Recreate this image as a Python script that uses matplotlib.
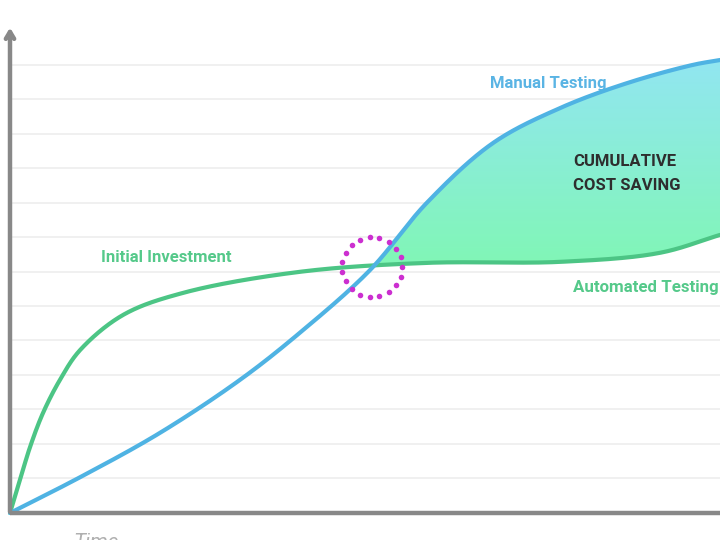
import numpy as np
import matplotlib
matplotlib.use("Agg")
import matplotlib.pyplot as plt
from matplotlib.patches import Polygon
from matplotlib.colors import LinearSegmentedColormap

plt.rcParams['font.family'] = ['Roboto', 'DejaVu Sans']

# values (time 0..100, cost in grid units)
manual_x = [0, 9.9, 21.1, 32.4, 40.8, 50.7, 58.7, 68.0, 77.5, 86.9, 96.2, 100]
manual_y = [0, 1.04, 2.32, 3.86, 5.22, 7.04, 8.99, 10.72, 11.74, 12.46, 12.99, 13.13]

auto_x = [0, 1.41, 2.82, 4.65, 7.04, 9.86, 15.92, 24.37, 40.8, 58.7, 77.5, 91.5, 100]
auto_y = [0, 0.96, 1.91, 2.90, 3.86, 4.72, 5.74, 6.38, 6.99, 7.25, 7.28, 7.54, 8.06]

grid_levels = list(range(1, 14))
blue = '#4fb3e3'
green = '#4cc585'

# pixel scale of one unit, used so the smoothing works in screen space
SX, SY = 7.1, 34.5


def smooth(x, y, n=60):
    # centripetal catmull-rom, only to draw a smooth line through the read points
    p = np.column_stack([np.asarray(x) * SX, np.asarray(y) * SY])
    p = np.vstack([2 * p[0] - p[1], p, 2 * p[-1] - p[-2]])
    out = []
    for i in range(1, len(p) - 2):
        p0, p1, p2, p3 = p[i - 1], p[i], p[i + 1], p[i + 2]
        t0 = 0.0
        t1 = t0 + np.linalg.norm(p1 - p0) ** 0.5
        t2 = t1 + np.linalg.norm(p2 - p1) ** 0.5
        t3 = t2 + np.linalg.norm(p3 - p2) ** 0.5
        t = np.linspace(t1, t2, n)[:, None]
        a1 = (t1 - t) / (t1 - t0) * p0 + (t - t0) / (t1 - t0) * p1
        a2 = (t2 - t) / (t2 - t1) * p1 + (t - t1) / (t2 - t1) * p2
        a3 = (t3 - t) / (t3 - t2) * p2 + (t - t2) / (t3 - t2) * p3
        b1 = (t2 - t) / (t2 - t0) * a1 + (t - t0) / (t2 - t0) * a2
        b2 = (t3 - t) / (t3 - t1) * a2 + (t - t1) / (t3 - t1) * a3
        c = (t2 - t) / (t2 - t1) * b1 + (t - t1) / (t2 - t1) * b2
        out.append(c if i == 1 else c[1:])
    c = np.vstack(out)
    return c[:, 0] / SX, c[:, 1] / SY


mx, my = smooth(manual_x, manual_y)
axx, ayy = smooth(auto_x, auto_y)

fig = plt.figure(figsize=(7.2, 5.4), dpi=100)
ax = fig.add_axes([0, 0, 1, 1])
ax.axis('off')

for g in grid_levels:
    ax.axhline(g, xmin=0.014, color='#eeeeee', lw=1.2, zorder=0)

# gradient fill for the saving area (after the break-even point)
xs = np.linspace(50, 100, 400)
top = np.interp(xs, mx, my)
bot = np.interp(xs, axx, ayy)
keep = top >= bot
xs, top, bot = xs[keep], top[keep], bot[keep]
verts = np.vstack([np.column_stack([xs, top]), np.column_stack([xs[::-1], bot[::-1]])])
clip = Polygon(verts, closed=True, fc='none', ec='none', transform=ax.transData)
ax.add_patch(clip)
grad = np.linspace(0, 1, 256).reshape(-1, 1)
cmap = LinearSegmentedColormap.from_list('g', ['#80f7b4', '#92e6f2'])
im = ax.imshow(grad, cmap=cmap, aspect='auto', origin='lower',
               extent=[45, 100, 7.0, 13.2], zorder=1)
im.set_clip_path(clip)

ax.plot(axx, ayy, color=green, lw=3, zorder=3, solid_capstyle='round')
ax.plot(mx, my, color=blue, lw=3, zorder=4, solid_capstyle='round')

# axes
ax.plot([0, 101], [0, 0], color='#888888', lw=3.2, zorder=5, solid_capstyle='butt')
ax.annotate('', xy=(0, 14.15), xytext=(0, -0.05),
            arrowprops=dict(arrowstyle='->,head_length=0.5,head_width=0.3',
                            color='#888888', lw=3.2), zorder=5)

# dotted break-even circle
ang = np.linspace(0, 2 * np.pi, 20)[:-1]
ax.scatter(51.0 + 4.23 * np.cos(ang), 7.13 + 0.87 * np.sin(ang), s=16,
           color='#cc2fd0', lw=0, zorder=6)

ax.text(67.6, 12.45, 'Manual Testing', color='#5ab4e4', fontsize=12, fontweight='bold',
        ha='left', va='center')
ax.text(12.8, 7.42, 'Initial Investment', color='#55c98a', fontsize=12, fontweight='bold',
        ha='left', va='center')
ax.text(79.3, 6.53, 'Automated Testing', color='#55c98a', fontsize=12.2, fontweight='bold',
        ha='left', va='center')
ax.text(79.3, 10.20, 'CUMULATIVE', color='#2e2e2e', fontsize=12, fontweight='bold',
        ha='left', va='center')
ax.text(79.3, 9.48, 'COST SAVING', color='#2e2e2e', fontsize=12, fontweight='bold',
        ha='left', va='center')
ax.text(8.9, -0.58, 'Time', color='#b0b0b0', fontsize=15, fontstyle='italic',
        ha='left', va='top')

ax.set_xlim(-1.408, 100)
ax.set_ylim(-0.783, 14.87)

fig.savefig('out.png', dpi=100)
